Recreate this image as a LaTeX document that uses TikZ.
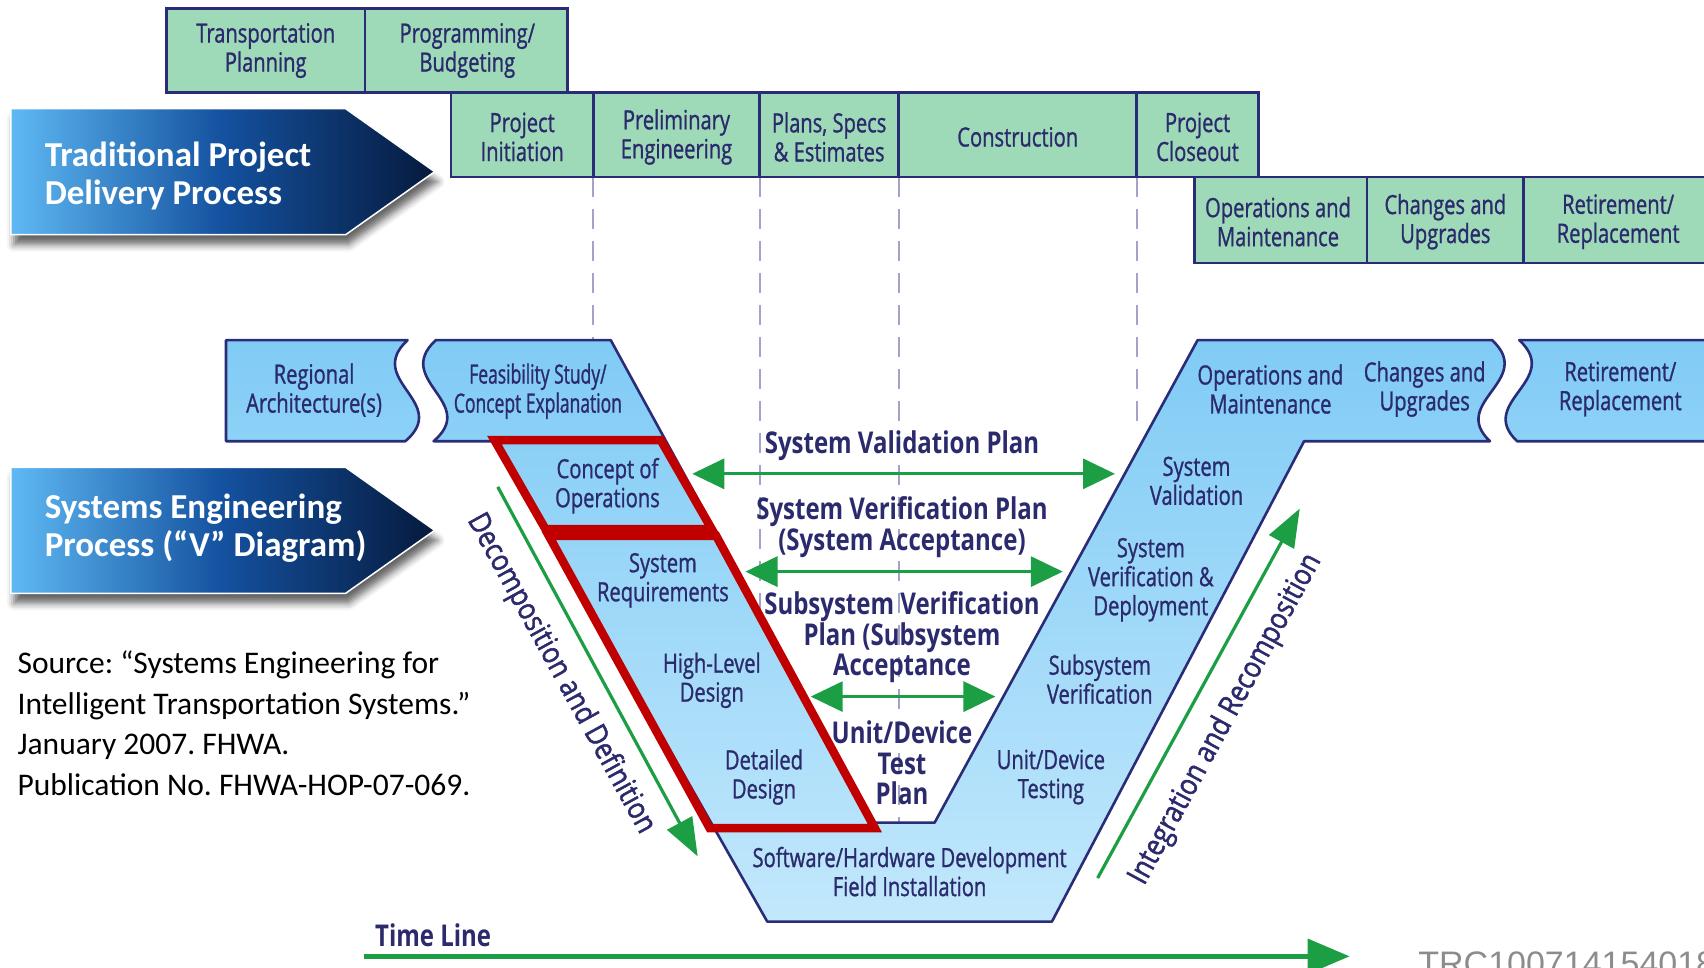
\documentclass[tikz,border=0pt]{standalone}
\usepackage{fontspec}
\usetikzlibrary{arrows.meta,shadows.blur}
\setmainfont{Carlito}
\newfontfamily\labfont{Open Sans}[FakeStretch=0.76, FakeBold=1]
\newfontfamily\narrowfont{Open Sans}[FakeStretch=0.66, FakeBold=1]
\newfontfamily\planfont{Open Sans}[FakeStretch=0.8]
\newfontfamily\slantfont{Open Sans}[FakeStretch=0.86, FakeBold=1.5]
\newfontfamily\arifont{Liberation Sans}
\definecolor{navy}{HTML}{2A2C78}
\definecolor{ink}{HTML}{2B2A6C}
\definecolor{mint}{HTML}{9FDAB8}
\definecolor{sky}{HTML}{80CBF5}
\definecolor{skylight}{HTML}{C2E8FC}
\definecolor{skymid}{HTML}{8DD1F7}
\definecolor{arrowgreen}{HTML}{1C9E45}
\definecolor{redbox}{HTML}{C00000}
\definecolor{dashgrey}{HTML}{A3A3C9}
\definecolor{banner1}{HTML}{5EB9F3}
\definecolor{banner2}{HTML}{14519F}
\definecolor{banner3}{HTML}{061A3D}
\tikzset{
  gbox/.style={fill=mint, draw=navy, line width=2.6pt},
  lbl/.style={font=\labfont\fontsize{26.5}{29}\selectfont, text=ink, align=center, inner sep=0pt},
  plan/.style={font=\planfont\bfseries\fontsize{30}{30.5}\selectfont, text=ink, align=center, inner sep=0pt},
  slant/.style={font=\slantfont\fontsize{30}{30}\selectfont, text=ink, inner sep=0pt},
  phase/.style={draw=navy, line width=2.6pt, line join=round},
  guide/.style={draw=dashgrey, line width=2pt, dash pattern=on 20pt off 12pt},
  redframe/.style={draw=redbox, line width=8.5pt, line join=miter},
  twoway/.style={draw=arrowgreen, line width=3.2pt,
    {Triangle[length=32pt,width=30pt]}-{Triangle[length=32pt,width=30pt]}},
  oneway/.style={draw=arrowgreen, line width=3.2pt, -{Triangle[length=38pt,width=28pt]}},
  timearrow/.style={draw=arrowgreen, line width=5.5pt, -{Triangle[length=42pt,width=34pt]}},
  banner/.style={left color=banner1, right color=banner3, middle color=banner2,
    draw=white, line width=1.5pt,
    blur shadow={shadow xshift=3pt, shadow yshift=-10pt, shadow blur radius=7pt, shadow opacity=60}},
  bannertext/.style={font=\bfseries\fontsize{35}{38}\selectfont, text=white, align=left,
    inner sep=0pt, anchor=west},
}
\begin{document}
\frenchspacing
\begin{tikzpicture}[x=1.0867pt, y=-1.0867pt]
\useasboundingbox (0,0) rectangle (1568,890);

% phase guide lines
\draw[guide] (546,163) -- (546,318);
\draw[guide] (699,163) -- (699,585);
\draw[guide] (827,163) -- (827,757);
\draw[guide] (1046,163) -- (1046,395);

% traditional delivery phases
\path[gbox] (153,8) rectangle (336,85);
\path[gbox] (336,8) rectangle (522,85);
\path[gbox] (415,85) rectangle (546,163);
\path[gbox] (546,85) rectangle (699,163);
\path[gbox] (699,85) rectangle (827,163);
\path[gbox] (827,85) rectangle (1046,163);
\path[gbox] (1046,85) rectangle (1158,163);
\path[gbox] (1099,163) rectangle (1258,242);
\path[gbox] (1258,163) rectangle (1402,242);
\path[gbox] (1402,163) rectangle (1590,242);

\node[lbl] (tplan) at (244.5,46.5) {Transportation\\Planning};
\node[lbl] (prog)  at (430,46.5) {Programming/\\Budgeting};
\node[lbl] (pinit) at (480.5,126) {Project\\Initiation};
\node[lbl] (prelim) at (622.5,126) {Preliminary\\Engineering};
\node[lbl] (pse) at (763,126) {Plans, Specs\\\& Estimates};
\node[lbl] (constr) at (936.5,126) {Construction};
\node[lbl] (close) at (1102,126) {Project\\Closeout};
\node[lbl] (tom) at (1176,204) {Operations and\\Maintenance};
\node[lbl] (tcu) at (1330,204) {Changes and\\Upgrades};
\node[lbl] (trr) at (1489,204) {Retirement/\\Replacement};

% banners
\path[banner] (10,100) -- (318,100) -- (400,158) -- (318,216) -- (10,216) -- cycle;
\node[bannertext] (tpd) at (41,162) {Traditional Project\\Delivery Process};
\path[banner] (10,430) -- (318,430) -- (400,488) -- (318,546) -- (10,546) -- cycle;
\node[bannertext] (sep) at (41,486) {Systems Engineering\\Process (“V” Diagram)};

% systems engineering shapes
\path[phase, top color=sky, bottom color=skymid]
  (208,313) -- (375,313) .. controls (335,350) and (415,370) .. (373,406) -- (208,406) -- cycle;
\path[phase, top color=sky, bottom color=skylight]
  (401,313) -- (562,313) -- (805,757) -- (860,757) -- (1102,313) -- (1373,313)
  .. controls (1413,350) and (1333,370) .. (1371,406) -- (1200,406) -- (968,848)
  -- (706,848) -- (455,406) -- (399,406)
  .. controls (441,370) and (361,350) .. (401,313) -- cycle;
\path[phase, top color=sky, bottom color=skymid]
  (1398,313) .. controls (1438,350) and (1358,370) .. (1396,406) -- (1590,406)
  -- (1590,313) -- cycle;

% highlighted steps
\path[redframe] (455,405) -- (608,405) -- (655,487) -- (502,487) -- cycle;
\path[redframe] (505,493) -- (659,493) -- (805,762) -- (653,762) -- cycle;

\node[lbl] (reg) at (289,359) {Regional\\Architecture(s)};
\node[lbl, font=\narrowfont\fontsize{26.5}{29}\selectfont] (feas) at (495,360) {Feasibility Study/\\Concept Explanation};
\node[lbl] (conops) at (559,447) {Concept of\\Operations};
\node[lbl] (sysreq) at (610,534) {System\\Requirements};
\node[lbl] (hld) at (655,626) {High-Level\\Design};
\node[lbl] (dd) at (703,715) {Detailed\\Design};
\node[lbl] (swhw) at (837,802) {Software/Hardware Development\\Field Installation};
\node[lbl] (uts) at (967,715) {Unit/Device\\Testing};
\node[lbl] (ssv) at (1012,625) {Subsystem\\Verification};
\node[lbl] (svd) at (1059,533.5) {System\\Verification \&\\Deployment};
\node[lbl] (sval) at (1101,442.5) {System\\Validation};
\node[lbl] (om) at (1169,358) {Operations and\\Maintenance};
\node[lbl] (cu) at (1311,358) {Changes and\\Upgrades};
\node[lbl] (rr) at (1491,358) {Retirement/\\Replacement};

% verification plans
\node[plan] (pval) at (830,410) {System Validation Plan};
\node[plan] (pver) at (830,485) {System Verification Plan\\(System Acceptance)};
\node[plan] (psub) at (830,586.5) {Subsystem Verification\\Plan (Subsystem\\Acceptance};
\node[plan] (punit) at (830,702) {Unit/Device\\Test\\Plan};

\coordinate (a1l) at (637,436);  \coordinate (a1r) at (1026,436);
\coordinate (a2l) at (686,526);  \coordinate (a2r) at (978,526);
\coordinate (a3l) at (746,641);  \coordinate (a3r) at (916,641);
\draw[twoway] (a1l) -- (a1r);
\draw[twoway] (a2l) -- (a2r);
\draw[twoway] (a3l) -- (a3r);

% decomposition / integration
\node[slant, rotate=-61.2] (decomp) at (516,620) {Decomposition and Definition};
\coordinate (d1) at (458,448); \coordinate (d2) at (642,788);
\draw[oneway] (d1) -- (d2);
\node[slant, rotate=61.5] (integ) at (1128,662) {Integration and Recomposition};
\coordinate (i1) at (1010,808); \coordinate (i2) at (1196,468);
\draw[oneway] (i1) -- (i2);

% time line
\node[plan, anchor=west] (tl) at (345,861) {Time Line};
\coordinate (t1) at (335,880); \coordinate (t2) at (1242,880);
\draw[timearrow] (t1) -- (t2);

% source note
\node[anchor=west, align=left, inner sep=0pt, font=\fontsize{31.5}{40.8}\selectfont] (src) at (16,665.5)
  {Source: “Systems Engineering for\\Intelligent Transportation Systems.”\\January 2007. FHWA.\\Publication No. FHWA-HOP-07-069.};

\node[anchor=north west, inner sep=0pt, text=black!45, font=\arifont\fontsize{34}{34}\selectfont] (code) at (1305,876) {TRC100714154018};
\end{tikzpicture}
\end{document}
